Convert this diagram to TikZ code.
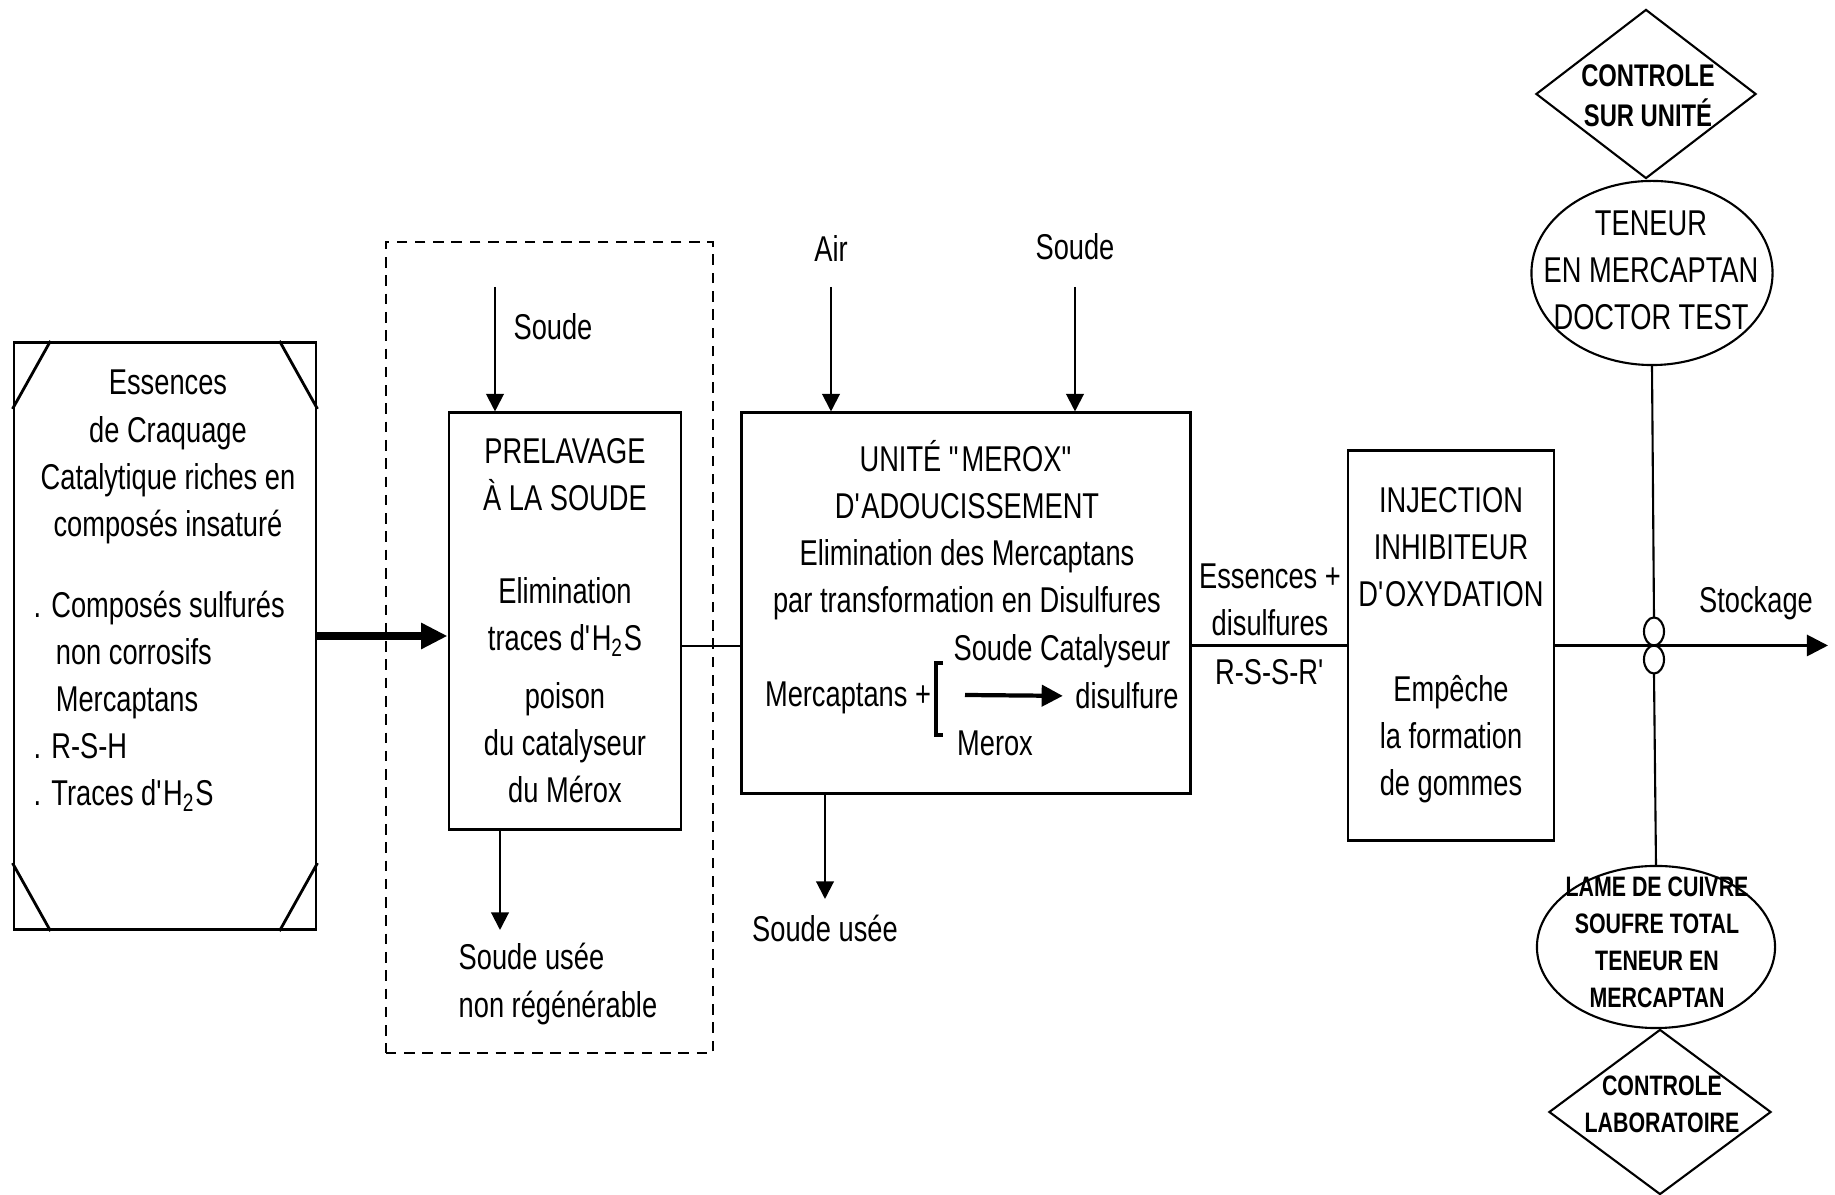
\documentclass[tikz,border=0pt]{standalone}
\usepackage{fontspec}
\setmainfont{Liberation Sans}[FakeStretch=0.76]
\usetikzlibrary{arrows.meta, positioning, shapes.geometric}
\newcommand{\ap}{\textquotesingle}
\newcommand{\dq}{\textquotedbl}

\begin{document}
\begin{tikzpicture}[
  x=0.01cm, y=-0.01cm,
  every node/.style={font=\fontsize{10.2}{13.4}\selectfont},
  box/.style={draw, thick, align=center, inner sep=0pt},
  lbl/.style={inner sep=0pt, align=center},
  arr/.style={semithick, -{Triangle[length=5pt, width=5pt]}},
  bigarr/.style={line width=2pt, -{Triangle[length=7.5pt, width=7pt]}},
  ctrl/.style={draw, semithick, diamond, inner sep=0pt},
  test/.style={draw, semithick, ellipse, inner sep=0pt},
  small/.style={font=\bfseries\fontsize{8}{10.5}\selectfont}
]
\useasboundingbox (0,0) rectangle (1835,1195);

% charge
\node[box, minimum width=3.02cm, minimum height=5.87cm] (ess) at (165,636) {};
\draw[thick] ([xshift=0.38cm]ess.north west) -- ([yshift=-0.68cm]ess.north west);
\draw[thick] ([xshift=-0.38cm]ess.north east) -- ([yshift=-0.68cm]ess.north east);
\draw[thick] ([xshift=0.38cm]ess.south west) -- ([yshift=0.68cm]ess.south west);
\draw[thick] ([xshift=-0.38cm]ess.south east) -- ([yshift=0.68cm]ess.south east);
\node[lbl] (esshead) at (168,457) {Essences\\de Craquage\\Catalytique riches en\\composés insaturé};
\node[lbl, align=left, anchor=west] (esslist) at (33,701) {. Composés sulfurés\\\hspace*{6.3pt}non corrosifs\\\hspace*{6.3pt}Mercaptans\\. R-S-H\\. Traces d\ap H\textsubscript{2}S};

% prelavage
\node[draw, semithick, dash pattern=on 3pt off 2.2pt, minimum width=3.27cm, minimum height=8.11cm] (grp) at (549.5,647.5) {};
\node[box, minimum width=2.32cm, minimum height=4.16cm] (prel) at (565,621) {PRELAVAGE\\À LA SOUDE\\[13pt]Elimination\\traces d\ap H\textsubscript{2}S\\[3pt]poison\\du catalyseur\\du Mérox};
\draw[bigarr] (ess.east) -- (ess.east -| prel.west);

\coordinate (sp) at (495,287);
\draw[arr] (sp) -- (sp |- prel.north);
\node[lbl] (sp lbl) at (553,327) {Soude};
\coordinate (up) at (500,930);
\draw[arr] (up |- prel.south) -- (up);
\node[lbl, align=left, anchor=west] (up lbl) at (458,984) {Soude usée\\non régénérable};

% merox
\node[box, minimum width=4.48cm, minimum height=3.8cm] (merox) at (966,603) {};
\node[lbl] (merhead) at (967,530) {UNITÉ \dq MEROX\dq\\D\ap ADOUCISSEMENT\\Elimination des Mercaptans\\par transformation en Disulfures};
\node[lbl] (merc) at (848,698) {Mercaptans +};
\draw[line width=1.2pt] (943,663) -- (936,663) -- (936,735) -- (943,735);
\node[lbl] (cata) at (1062,651) {Soude Catalyseur};
\node[lbl] (disul) at (1127,696) {disulfure};
\node[lbl] (mxcat) at (995,743) {Merox};
\coordinate (r1) at (965,695);
\draw[line width=1.2pt, -{Triangle[length=6pt, width=6pt]}, shorten >=0.12cm] (r1) -- (disul.west);

\coordinate (air) at (831,287);
\draw[arr] (air) -- (air |- merox.north);
\node[lbl, above=0.25cm of air] (air lbl) {Air};
\coordinate (sm) at (1075,287);
\draw[arr] (sm) -- (sm |- merox.north);
\node[lbl, above=0.26cm of sm] (sm lbl) {Soude};
\coordinate (um) at (825,899);
\draw[arr] (um |- merox.south) -- (um);
\node[lbl, below=0.15cm of um] (um lbl) {Soude usée};

\draw[semithick] ([yshift=-0.25cm]prel.east) -- ([yshift=-0.25cm]prel.east -| merox.west);

% injection
\node[box, minimum width=2.06cm, minimum height=3.89cm] (inj) at (1451,645.5) {INJECTION\\INHIBITEUR\\D\ap OXYDATION\\[13.5pt]Empêche\\la formation\\de gommes};
\draw[thick] (merox.east |- inj.west) -- (inj.west);
\node[lbl] (essdis) at (1270,600) {Essences +\\disulfures};
\node[lbl] (rssr) at (1270,672) {R-S-S-R\ap};

% stockage
\coordinate (stk) at (1828,645.5);
\draw[thick, -{Triangle[length=6pt, width=6pt]}] (inj.east) -- (stk);
\node[lbl] (stk lbl) at (1756,603) {Stockage};

% controles
\node[ctrl, minimum width=2.2cm, minimum height=1.69cm] (tdia) at (1646,94) {};
\node[lbl, font=\bfseries\fontsize{8.9}{11.4}\selectfont] (tdia txt) at (1648,96) {CONTROLE\\SUR UNITÉ};
\node[test, minimum width=2.41cm, minimum height=1.84cm] (tel) at (1652,273) {};
\node[lbl] (tel txt) at (1651,270) {TENEUR\\EN MERCAPTAN\\DOCTOR TEST};
\node[test, minimum width=2.38cm, minimum height=1.62cm] (bel) at (1656,947) {};
\node[lbl, small] (bel txt) at (1657,942) {LAME DE CUIVRE\\SOUFRE TOTAL\\TENEUR EN\\MERCAPTAN};
\node[ctrl, minimum width=2.22cm, minimum height=1.65cm] (bdia) at (1660,1112) {};
\node[lbl, small] (bdia txt) at (1662,1104) {CONTROLE\\LABORATOIRE};

% liaison verticale
\coordinate (xo) at (1654,645.5);
\draw[semithick] (tel.south) -- ([yshift=0.28cm]xo);
\draw[semithick] ([yshift=0.14cm]xo) ellipse [x radius=0.1cm, y radius=0.14cm];
\draw[semithick] ([yshift=-0.14cm]xo) ellipse [x radius=0.1cm, y radius=0.14cm];
\draw[semithick] ([yshift=-0.28cm]xo) -- (bel.north);
\end{tikzpicture}
\end{document}
